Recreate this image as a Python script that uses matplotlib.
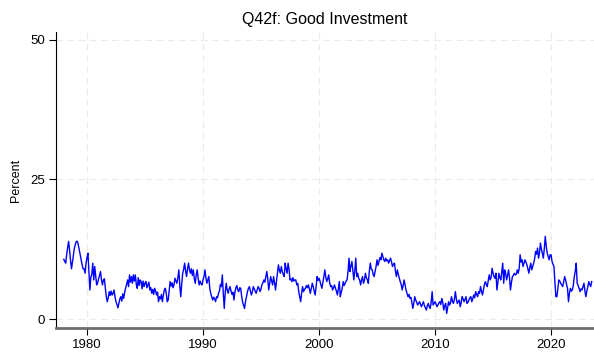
import numpy as np
import matplotlib
matplotlib.use("Agg")
import matplotlib.pyplot as plt

plt.rcParams['font.family'] = ['Liberation Sans', 'DejaVu Sans']

# monthly share answering "good investment", Jan 1978 onwards
v1978 = [10.7, 10.3, 10.0, 11.5, 12.8, 13.9, 12.3, 10.5, 9.0, 10.2, 11.5, 12.7]
v1979 = [13.4, 13.9, 13.9, 13.3, 12.4, 11.5, 10.6, 9.7, 9.0, 9.0, 8.2, 10.0]
v1980 = [11.0, 11.8, 8.5, 5.2, 7.5, 8.0, 10.0, 7.0, 9.4, 7.8, 6.1, 6.5]
v1981 = [7.2, 7.8, 8.5, 7.0, 6.1, 7.0, 7.2, 5.5, 4.0, 3.1, 3.8, 4.9]
v1982 = [4.2, 5.0, 4.3, 4.6, 5.2, 4.0, 3.1, 2.6, 2.0, 2.8, 3.6, 4.0]
v1983 = [3.2, 4.5, 3.7, 4.8, 5.6, 6.2, 7.0, 5.8, 7.9, 6.6, 7.6, 6.4]
v1984 = [7.9, 6.8, 7.9, 6.2, 5.5, 7.4, 6.0, 7.0, 6.7, 5.4, 6.8, 5.8]
v1985 = [6.4, 6.7, 5.6, 6.1, 6.6, 5.2, 5.6, 4.6, 5.3, 4.4, 5.5, 5.0]
v1986 = [4.3, 4.8, 3.1, 4.0, 3.6, 4.4, 3.1, 4.3, 5.2, 5.5, 4.6, 3.1]
v1987 = [3.4, 5.0, 6.7, 5.9, 6.5, 5.6, 6.1, 7.3, 6.8, 6.4, 7.4, 8.8]
v1988 = [6.0, 4.0, 6.3, 8.2, 8.9, 10.0, 8.6, 7.6, 9.0, 10.0, 8.8, 8.2]
v1989 = [9.0, 7.8, 8.8, 7.2, 6.4, 7.9, 8.8, 7.3, 6.1, 6.8, 6.3, 6.1]
v1990 = [7.0, 7.6, 8.8, 7.4, 6.4, 7.0, 7.6, 5.5, 4.6, 4.0, 3.4, 3.9]
v1991 = [3.6, 3.1, 4.0, 3.8, 4.6, 5.0, 6.2, 5.8, 7.9, 4.5, 1.9, 4.8]
v1992 = [6.4, 5.2, 4.6, 5.4, 5.8, 5.0, 4.4, 4.8, 3.4, 4.8, 5.6, 6.0]
v1993 = [5.2, 4.9, 5.6, 5.5, 4.0, 3.0, 2.4, 1.9, 3.2, 4.0, 4.9, 5.5]
v1994 = [5.8, 5.0, 4.3, 4.8, 5.8, 5.4, 5.0, 4.6, 5.2, 5.8, 5.5, 4.9]
v1995 = [5.4, 6.2, 6.5, 7.0, 6.6, 7.5, 8.5, 7.2, 5.2, 6.4, 7.6, 6.8]
v1996 = [6.1, 7.6, 6.5, 5.2, 6.8, 8.2, 9.7, 8.7, 8.2, 9.4, 8.5, 8.0]
v1997 = [7.6, 10.0, 9.0, 8.2, 10.0, 8.9, 7.0, 7.2, 6.7, 7.4, 6.8, 7.0]
v1998 = [7.0, 6.1, 6.4, 4.9, 4.0, 3.1, 4.6, 5.8, 4.9, 5.3, 5.5, 6.0]
v1999 = [5.6, 6.1, 5.4, 4.6, 5.5, 6.4, 5.8, 5.0, 4.3, 5.8, 7.6, 6.9]
v2000 = [7.3, 6.8, 6.1, 5.5, 6.5, 7.6, 8.8, 7.5, 6.7, 7.2, 7.9, 6.5]
v2001 = [5.8, 6.0, 5.2, 5.6, 6.1, 5.5, 5.0, 4.3, 5.4, 6.7, 4.0, 4.8]
v2002 = [5.5, 6.7, 6.0, 6.4, 6.8, 7.0, 8.5, 10.9, 8.5, 9.5, 10.3, 8.6]
v2003 = [7.0, 8.6, 10.9, 7.6, 8.2, 7.3, 7.0, 6.1, 7.0, 7.6, 6.4, 7.0]
v2004 = [8.2, 7.4, 7.0, 6.4, 8.5, 10.0, 9.0, 8.8, 8.0, 7.6, 8.5, 9.4]
v2005 = [10.6, 9.6, 10.3, 11.0, 10.6, 11.8, 11.2, 10.6, 10.3, 10.9, 10.4, 10.6]
v2006 = [10.0, 10.5, 10.9, 10.2, 9.4, 9.8, 10.0, 8.6, 7.6, 8.8, 8.0, 7.3]
v2007 = [6.7, 6.2, 5.2, 6.0, 7.0, 6.1, 5.2, 4.6, 4.0, 4.4, 3.7, 3.9]
v2008 = [3.0, 1.9, 2.8, 4.0, 3.4, 3.0, 2.5, 2.8, 3.1, 2.6, 2.2, 2.7]
v2009 = [3.1, 2.4, 2.0, 1.6, 2.4, 2.8, 2.2, 1.9, 3.0, 4.9, 2.5, 2.8]
v2010 = [3.1, 2.7, 2.2, 2.5, 2.9, 3.1, 2.6, 3.7, 3.0, 1.6, 2.4, 2.8]
v2011 = [1.0, 2.0, 3.1, 2.5, 2.9, 4.0, 3.2, 2.8, 3.5, 4.9, 3.6, 2.8]
v2012 = [3.1, 3.4, 2.2, 2.9, 4.0, 3.6, 3.1, 3.5, 4.0, 2.8, 3.0, 3.4]
v2013 = [3.8, 4.0, 3.1, 3.6, 4.3, 3.8, 4.9, 4.4, 4.0, 4.9, 4.6, 5.8]
v2014 = [5.0, 4.3, 5.2, 6.1, 6.7, 6.2, 5.8, 6.8, 7.9, 7.0, 7.5, 9.1]
v2015 = [8.2, 7.6, 7.3, 8.2, 5.2, 6.6, 8.2, 7.4, 7.0, 8.4, 10.0, 6.4]
v2016 = [8.8, 8.2, 7.0, 7.8, 8.8, 7.4, 5.2, 6.5, 7.6, 7.8, 8.2, 7.9]
v2017 = [8.0, 8.8, 8.2, 9.0, 11.5, 10.2, 10.6, 9.4, 10.0, 10.6, 10.2, 9.7]
v2018 = [9.0, 8.2, 9.2, 10.0, 8.8, 9.4, 10.0, 10.8, 12.1, 11.6, 12.7, 10.9]
v2019 = [11.8, 13.6, 12.5, 11.8, 10.9, 12.6, 14.8, 13.0, 11.8, 11.2, 10.6, 11.5]
v2020 = [11.5, 10.3, 9.8, 9.4, 6.5, 4.0, 4.0, 5.4, 7.0, 6.8, 6.4, 6.1]
v2021 = [5.8, 6.6, 7.6, 7.0, 6.2, 5.5, 3.1, 4.6, 5.5, 5.0, 5.2, 6.0]
v2022 = [7.6, 8.5, 10.0, 6.4, 6.0, 5.5, 4.9, 5.4, 5.2, 5.8, 6.4, 5.0]
v2023 = [4.0, 5.0, 5.8, 6.7, 6.2, 5.8, 6.7]

yearly = [v1978, v1979, v1980, v1981, v1982, v1983, v1984, v1985, v1986,
          v1987, v1988, v1989, v1990, v1991, v1992, v1993, v1994, v1995,
          v1996, v1997, v1998, v1999, v2000, v2001, v2002, v2003, v2004,
          v2005, v2006, v2007, v2008, v2009, v2010, v2011, v2012, v2013,
          v2014, v2015, v2016, v2017, v2018, v2019, v2020, v2021, v2022,
          v2023]

x_ticks = [1980, 1990, 2000, 2010, 2020]
y_ticks = [0, 25, 50]

values = np.concatenate(yearly)
dates = 1978 + np.arange(len(values)) / 12.0

fig = plt.figure(figsize=(5.94, 3.52), dpi=100)
ax = fig.add_axes([56 / 594, 1 - 328 / 352, 1 - 56 / 594, (328 - 32) / 352])

ax.plot(dates, values, color='#0000ff', linewidth=1.0)

ax.set_xlim(1977.33, 2023.7)
ax.set_ylim(-1.61, 51.4)
ax.set_xticks(x_ticks)
ax.set_yticks(y_ticks)
ax.grid(True, color='#ebebeb', linestyle=(0, (6, 4)), linewidth=0.8)
ax.set_axisbelow(True)

for side in ['top', 'right']:
    ax.spines[side].set_visible(False)
ax.spines['left'].set_color('black')
ax.spines['left'].set_linewidth(0.8)
ax.spines['bottom'].set_color('#6e6e6e')
ax.spines['bottom'].set_linewidth(2.0)

ax.tick_params(axis='both', direction='out', length=5, width=0.8,
               color='black', labelsize=9.5, pad=3)

ax.set_title('Q42f: Good Investment', fontsize=11.5, pad=6)
ax.set_ylabel('Percent', fontsize=9, labelpad=6)

fig.savefig('out.png', dpi=100, facecolor='white')
